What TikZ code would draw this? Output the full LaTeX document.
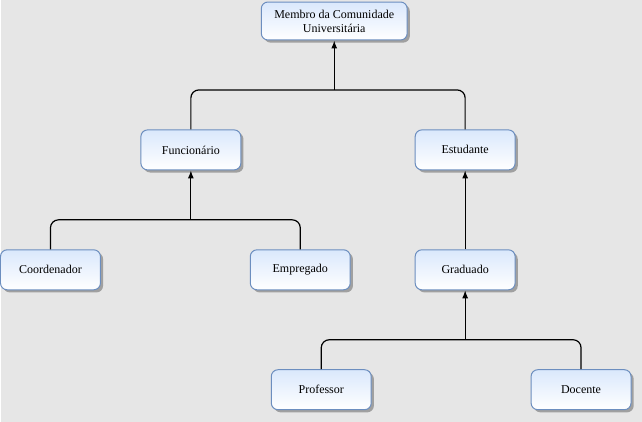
\documentclass[tikz,border=0pt]{standalone}
\usepackage{fontspec}
\setmainfont{Liberation Serif}
\usetikzlibrary{shadows,arrows.meta}
\definecolor{fundo}{RGB}{230,230,230}
\definecolor{borda}{RGB}{108,142,191}
\definecolor{topo}{RGB}{218,232,252}
\begin{document}
\begin{tikzpicture}[x=0.75pt,y=-0.75pt]
	\tikzstyle{every node}+=[inner sep=0pt]
	\tikzstyle{classe}=[draw=borda, line width=0.75pt, rounded corners=5pt, top color=topo, bottom color=white, minimum width=75pt, minimum height=30pt, align=center, font=\fontsize{9}{10.5}\selectfont, drop shadow={shadow xshift=2pt, shadow yshift=-2pt, fill=black, opacity=0.3}]
	\tikzstyle{liga}=[black, line width=0.9pt, rounded corners=6pt]
	\tikzstyle{seta}=[black, line width=0.9pt, -{Latex[length=6pt,width=4.5pt]}]
	\fill [fundo] (0,0) rectangle (642,422);
	\node [classe, minimum width=109.5pt, minimum height=28.5pt] (membro) at (334,21) {Membro da Comunidade\\Universitária};
	\node [classe] (func) at (190.5,150) {Funcionário};
	\node [classe] (estud) at (465,150) {Estudante};
	\node [classe] (coord) at (50,270) {Coordenador};
	\node [classe] (empreg) at (300,270) {Empregado};
	\node [classe] (grad) at (465,270) {Graduado};
	\node [classe] (prof) at (321,390) {Professor};
	\node [classe] (doc) at (581,390) {Docente};
	\coordinate (j1) at (334,90);
	\coordinate (j2) at (190.5,220);
	\coordinate (j3) at (465,340);
	\draw [liga] (func.north) |- (j1) -| (estud.north);
	\draw [seta] (j1) -- (membro.south);
	\draw [liga] (coord.north) |- (j2) -| (empreg.north);
	\draw [seta] (j2) -- (func.south);
	\draw [seta] (grad.north) -- (estud.south);
	\draw [liga] (prof.north) |- (j3) -| (doc.north);
	\draw [seta] (j3) -- (grad.south);
\end{tikzpicture}
\end{document}
